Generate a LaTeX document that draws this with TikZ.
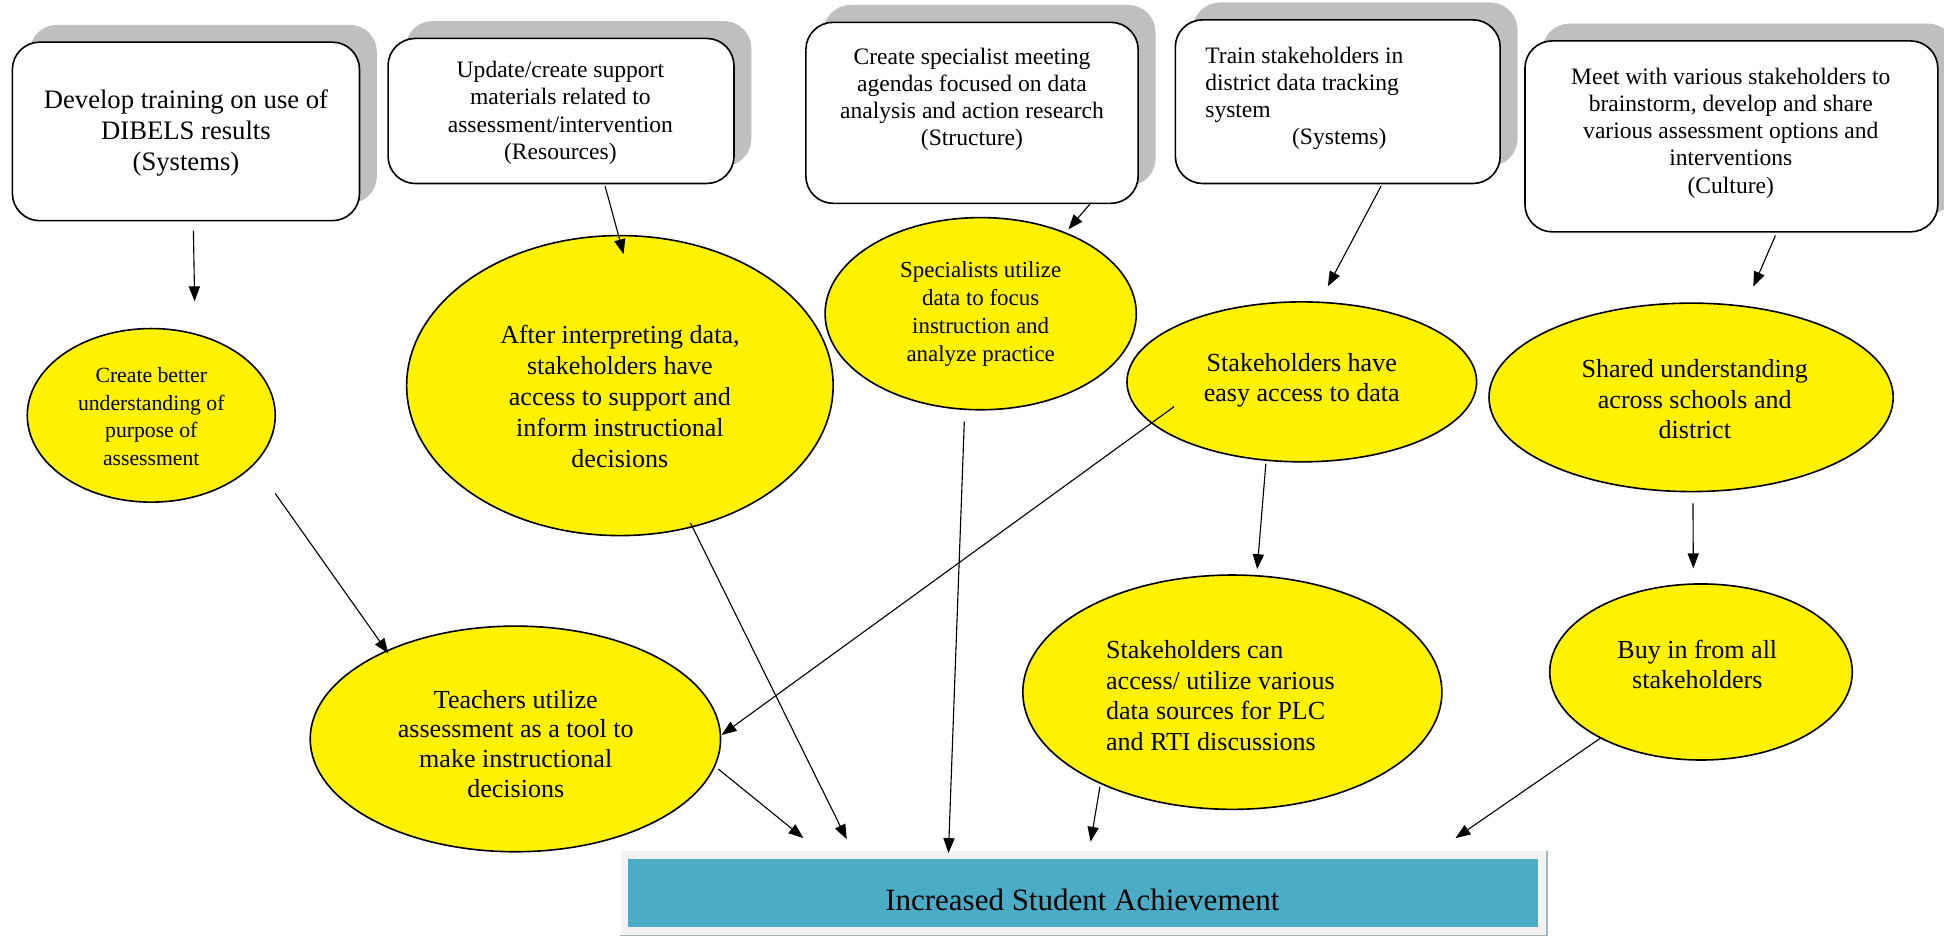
\documentclass[tikz,border=0pt]{standalone}
\usepackage{fontspec}
\setmainfont{Liberation Serif}
\usetikzlibrary{shapes.geometric,arrows.meta}
\definecolor{tealfill}{HTML}{4BACC6}
\definecolor{shadowgray}{HTML}{BFBFBF}
\definecolor{framegray}{HTML}{F2F2F2}
\definecolor{frameedge}{HTML}{A5B5BD}
\begin{document}
\begin{tikzpicture}[x=1pt,y=-1pt,
 box/.style={draw=black, line width=1.3pt, fill=white, rounded corners=22pt, inner sep=0pt},
 shadowbox/.style={fill=shadowgray, draw=none, rounded corners=22pt, inner sep=0pt},
 ell/.style={ellipse, draw=black, line width=1.3pt, fill=yellow, inner sep=0pt},
 txt/.style={align=center, inner sep=0pt, font=\fontsize{19}{21.8}\selectfont},
 bigtxt/.style={align=center, inner sep=0pt, font=\fontsize{21}{24.4}\selectfont},
 arr/.style={-{Triangle[length=12pt,width=9pt]}, line width=0.9pt},
]
\useasboundingbox (0,0) rectangle (1568,755);

% ---- top boxes (shadows first) ----
\node[shadowbox, minimum width=280pt, minimum height=144pt] (s1) at (164,92) {};
\node[box, minimum width=280pt, minimum height=144pt] (b1) at (150,106) {};
\node[align=center, inner sep=0pt, font=\fontsize{21.5}{25}\selectfont] (b1t) at (150,107) {Develop training on use of\\DIBELS results\\(Systems)};

\node[shadowbox, minimum width=279pt, minimum height=117pt] (s2) at (466.5,75.5) {};
\node[box, minimum width=279pt, minimum height=117pt] (b2) at (452.5,89.5) {};
\node[txt] (b2t) at (452,91) {Update/create support\\materials related to\\assessment/intervention\\(Resources)};

\node[shadowbox, minimum width=268pt, minimum height=146pt] (s3) at (798,77) {};
\node[box, minimum width=268pt, minimum height=146pt] (b3) at (784,91) {};
\node[txt] (b3t) at (784,80) {Create specialist meeting\\agendas focused on data\\analysis and action research\\(Structure)};

\node[shadowbox, minimum width=262pt, minimum height=132pt] (s4) at (1093,68) {};
\node[box, minimum width=262pt, minimum height=132pt] (b4) at (1079,82) {};
\node[txt, align=left, anchor=west] (b4t) at (972,79) {Train stakeholders in\\district data tracking\\system\\\hspace*{70pt}(Systems)};

\node[shadowbox, minimum width=333pt, minimum height=154pt] (s5) at (1410.5,96) {};
\node[box, minimum width=333pt, minimum height=154pt] (b5) at (1396.5,110) {};
\node[txt] (b5t) at (1396,107.5) {Meet with various stakeholders to\\brainstorm, develop and share\\various assessment options and\\interventions\\(Culture)};

% ---- ellipses ----
\node[ell, minimum width=200pt, minimum height=140pt] (e1) at (122,335) {};
\node[align=center, inner sep=0pt, font=\fontsize{17.5}{22.5}\selectfont] (e1t) at (122,336) {Create better\\understanding of\\purpose of\\assessment};

\node[ell, minimum width=344pt, minimum height=242pt] (e2) at (500,311) {};
\node[bigtxt, font=\fontsize{21}{25}\selectfont] (e2t) at (500,320) {After interpreting data,\\stakeholders have\\access to support and\\inform instructional\\decisions};

\node[ell, minimum width=251pt, minimum height=155pt] (e3) at (791,253) {};
\node[txt, font=\fontsize{18.5}{22.5}\selectfont] (e3t) at (791,253) {Specialists utilize\\data to focus\\instruction and\\analyze practice};

\node[ell, minimum width=282pt, minimum height=129pt] (e4) at (1050,308) {};
\node[bigtxt] (e4t) at (1050,306.5) {Stakeholders have\\easy access to data};

\node[ell, minimum width=326pt, minimum height=152pt] (e5) at (1364,320.5) {};
\node[bigtxt] (e5t) at (1367,322) {Shared understanding\\across schools and\\district};

\node[ell, minimum width=331pt, minimum height=182pt] (e6) at (415.7,596) {};
\node[bigtxt, font=\fontsize{21}{24}\selectfont] (e6t) at (416,600) {Teachers utilize\\assessment as a tool to\\make instructional\\decisions};

\node[ell, minimum width=338pt, minimum height=189pt] (e7) at (994,558.3) {};
\node[bigtxt, align=left, anchor=west, font=\fontsize{21}{24.8}\selectfont] (e7t) at (892,561) {Stakeholders can\\access/ utilize various\\data sources for PLC\\and RTI discussions};

\node[ell, minimum width=244pt, minimum height=142pt] (e8) at (1372,542) {};
\node[bigtxt] (e8t) at (1369,536) {Buy in from all\\stakeholders};

% ---- bottom box ----
\node[fill=framegray, draw=none, minimum width=747pt, minimum height=68pt, inner sep=0pt] (fr) at (874,720.5) {};
\draw[frameedge, line width=1.2pt] (fr.north east) -- (fr.south east) -- (fr.south west);
\node[fill=tealfill, draw=none, minimum width=734pt, minimum height=55pt, inner sep=0pt] (goal) at (873.5,720.5) {};
\node[inner sep=0pt, font=\fontsize{25}{29}\selectfont] (goalt) at (873,726) {Increased Student Achievement};

% ---- arrow end points ----
\coordinate (a1s) at (156,186);  \coordinate (a1e) at (157,243);
\coordinate (a2s) at (488,150);  \coordinate (a2e) at (503,205);
\coordinate (a3s) at (880,163.5);  \coordinate (a3e) at (861.7,185);
\coordinate (a4s) at (1114,150); \coordinate (a4e) at (1071,231);
\coordinate (a5s) at (1432,190); \coordinate (a5e) at (1414.2,231.2);
\coordinate (a6s) at (222,398);  \coordinate (a6e) at (313.2,527);
\coordinate (a7s) at (557,422);  \coordinate (a7e) at (683,677);
\coordinate (a8s) at (777.8,340);  \coordinate (a8e) at (765,688);
\coordinate (a9s) at (947,328);  \coordinate (a9e) at (582.1,592.8);
\coordinate (a10s) at (1021,374); \coordinate (a10e) at (1014,459);
\coordinate (a11s) at (1365.5,406); \coordinate (a11e) at (1365.8,458.4);
\coordinate (a12s) at (579.4,620.3);  \coordinate (a12e) at (648,676);
\coordinate (a13s) at (887.2,634.5);  \coordinate (a13e) at (879.7,678.9);
\coordinate (a14s) at (1291.9,594.7); \coordinate (a14e) at (1174,676);

\draw[arr] (a1s) -- (a1e);
\draw[arr] (a2s) -- (a2e);
\draw[arr] (a3s) -- (a3e);
\draw[arr] (a4s) -- (a4e);
\draw[arr] (a5s) -- (a5e);
\draw[arr] (a6s) -- (a6e);
\draw[arr] (a7s) -- (a7e);
\draw[arr] (a8s) -- (a8e);
\draw[arr] (a9s) -- (a9e);
\draw[arr] (a10s) -- (a10e);
\draw[arr] (a11s) -- (a11e);
\draw[arr] (a12s) -- (a12e);
\draw[arr] (a13s) -- (a13e);
\draw[arr] (a14s) -- (a14e);
\end{tikzpicture}
\end{document}
